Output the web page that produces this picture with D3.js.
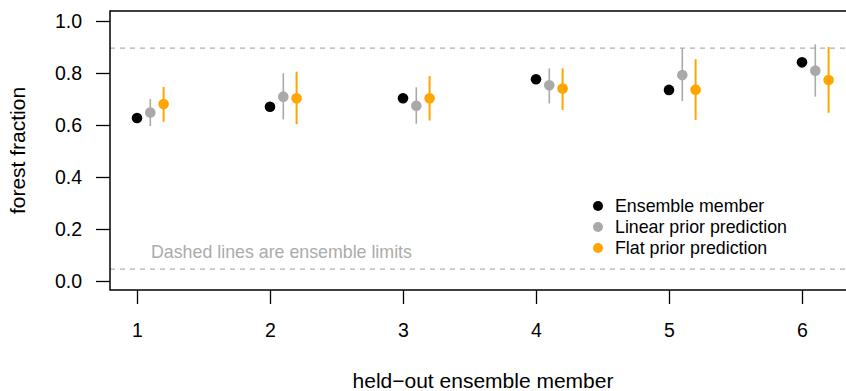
<!DOCTYPE html>
<html>
<head>
<meta charset="utf-8">
<script src="https://cdn.jsdelivr.net/npm/d3@7"></script>
<style>
  body { margin: 0; background: #fff; }
  svg { display: block; font-family: "Liberation Sans", Arial, Helvetica, sans-serif; }
</style>
</head>
<body>
<svg width="846" height="391"></svg>
<script>
// data
var members = [1, 2, 3, 4, 5, 6];
var ensemble = [0.627, 0.670, 0.703, 0.776, 0.735, 0.841];
var linearMean = [0.648, 0.709, 0.674, 0.753, 0.792, 0.809];
var linearLo = [0.596, 0.622, 0.605, 0.683, 0.692, 0.709];
var linearHi = [0.700, 0.799, 0.745, 0.818, 0.895, 0.910];
var flatMean = [0.681, 0.703, 0.703, 0.740, 0.736, 0.773];
var flatLo = [0.612, 0.603, 0.617, 0.658, 0.619, 0.647];
var flatHi = [0.746, 0.805, 0.788, 0.818, 0.853, 0.900];
var ensembleLimits = [0.046, 0.896];
var yTicks = [0, 0.2, 0.4, 0.6, 0.8, 1.0];
var legendLabels = ["Ensemble member", "Linear prior prediction", "Flat prior prediction"];
var colors = ["#000000", "#a9a9a9", "#ffa500"];

var svg = d3.select("svg");

var box = { left: 110, right: 856, top: 11, bottom: 290 };

var x = d3.scaleLinear().domain([0.797, 6.406]).range([box.left, box.right]);
var y = d3.scaleLinear().domain([0, 1]).range([281, 21]);

// dashed ensemble limits
svg.append("g").selectAll("line")
	.data(ensembleLimits)
	.enter().append("line")
	.attr("x1", box.left).attr("x2", box.right)
	.attr("y1", function (d) { return y(d); })
	.attr("y2", function (d) { return y(d); })
	.style("stroke", "#b0b0b0")
	.style("stroke-width", 1.2)
	.style("stroke-dasharray", "5,5");

svg.append("text")
	.attr("x", 151).attr("y", 258)
	.style("font-size", "17.8px")
	.style("fill", "#ababab")
	.text("Dashed lines are ensemble limits");

// series: offset, mean, lo, hi
var series = [
	{ off: 0, mean: ensemble, lo: null, hi: null, color: colors[0], w: 0 },
	{ off: 0.1, mean: linearMean, lo: linearLo, hi: linearHi, color: colors[1], w: 1.6 },
	{ off: 0.2, mean: flatMean, lo: flatLo, hi: flatHi, color: colors[2], w: 2 }
];

series.forEach(function (s) {
	var g = svg.append("g");
	if (s.lo) {
		g.selectAll("line")
			.data(members)
			.enter().append("line")
			.attr("x1", function (d) { return x(d + s.off); })
			.attr("x2", function (d) { return x(d + s.off); })
			.attr("y1", function (d, i) { return y(s.lo[i]); })
			.attr("y2", function (d, i) { return y(s.hi[i]); })
			.style("stroke", s.color)
			.style("stroke-width", s.w);
	}
	g.selectAll("circle")
		.data(members)
		.enter().append("circle")
		.attr("cx", function (d) { return x(d + s.off); })
		.attr("cy", function (d, i) { return y(s.mean[i]); })
		.attr("r", 5.3)
		.style("fill", s.color);
});

// box
svg.append("path")
	.attr("d", "M" + box.right + "," + box.top + "H" + box.left + "V" + box.bottom + "H" + box.right)
	.style("fill", "none")
	.style("stroke", "#000")
	.style("stroke-width", 1.5);

// axes
var yAxis = svg.append("g")
	.attr("transform", "translate(" + box.left + ",0)")
	.call(d3.axisLeft(y).tickValues(yTicks).tickFormat(d3.format(".1f")).tickSize(14).tickPadding(14));
var xAxis = svg.append("g")
	.attr("transform", "translate(0," + box.bottom + ")")
	.call(d3.axisBottom(x).tickValues(members).tickFormat(d3.format("d")).tickSize(14).tickPadding(19));

[yAxis, xAxis].forEach(function (a) {
	a.select(".domain").remove();
	a.selectAll(".tick line").style("stroke", "#000").style("stroke-width", 1.3);
	a.selectAll(".tick text")
		.style("font-family", "'Liberation Sans', Arial, Helvetica, sans-serif")
		.style("font-size", "19.5px")
		.style("fill", "#000");
});

// axis titles
svg.append("text")
	.attr("transform", "translate(25,150.5) rotate(-90)")
	.attr("text-anchor", "middle")
	.style("font-size", "21px")
	.text("forest fraction");

svg.append("text")
	.attr("x", 483).attr("y", 388)
	.attr("text-anchor", "middle")
	.style("font-size", "21px")
	.text("held\u2212out ensemble member");

// legend
var legend = svg.append("g").selectAll("g")
	.data(legendLabels)
	.enter().append("g")
	.attr("transform", function (d, i) { return "translate(598," + (206 + i * 21) + ")"; });

legend.append("circle")
	.attr("r", 5)
	.style("fill", function (d, i) { return colors[i]; });

legend.append("text")
	.attr("x", 17).attr("y", 6.3)
	.style("font-size", "17.8px")
	.text(function (d) { return d; });
</script>
</body>
</html>
